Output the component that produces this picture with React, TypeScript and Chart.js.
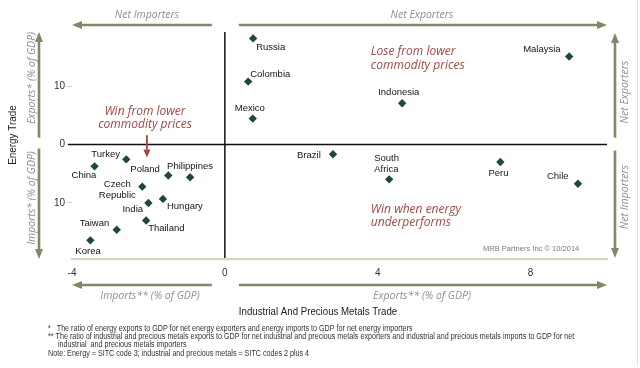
import React, { useEffect, useRef } from 'react';
import { Chart, registerables } from 'chart.js';

Chart.register(...registerables);

// ---- data ----
const countries = [
  'Russia', 'Colombia', 'Mexico', 'Malaysia', 'Indonesia', 'Brazil', 'South Africa', 'Peru', 'Chile',
  'Turkey', 'China', 'Poland', 'Philippines', 'Czech Republic', 'India', 'Hungary', 'Thailand', 'Taiwan', 'Korea',
];
// Industrial and precious metals trade, % of GDP (negative = net importer)
const metalsTrade = [0.74, 0.61, 0.73, 9.01, 4.64, 2.83, 4.3, 7.21, 9.24, -2.58, -3.41, -1.48, -0.91, -2.16, -2.0, -1.62, -2.06, -2.83, -3.52];
// Energy trade, % of GDP (negative = net importer)
const energyTrade = [18.2, 10.8, 4.46, 15.1, 7.1, -1.66, -5.95, -2.98, -6.7, -2.52, -3.72, -5.3, -5.6, -7.2, -10.0, -9.3, -13.0, -14.6, -16.4];
const xTickStep = 4;
const yTickStep = 10;

const footnotes = [
  '*   The ratio of energy exports to GDP for net energy exporters and energy imports to GDP for net energy importers',
  '** The ratio of industrial and precious metals exports to GDP for net industrial and precious metals exporters and industrial and precious metals imports to GDP for net',
  '     industrial  and precious metals importers',
  'Note: Energy = SITC code 3; industrial and precious metals = SITC codes 2 plus 4',
];

// label placement (pixel offsets from each point): [lines, dx, dy, align]
const labelPlacement: [string[], number, number, CanvasTextAlign][] = [
  [['Russia'], 3, 9, 'left'],
  [['Colombia'], 2, -7, 'left'],
  [['Mexico'], -18, -10, 'left'],
  [['Malaysia'], -46, -7, 'left'],
  [['Indonesia'], -24, -11, 'left'],
  [['Brazil'], -36, 1, 'left'],
  [['South', 'Africa'], -15, -21, 'left'],
  [['Peru'], -12, 11, 'left'],
  [['Chile'], -31, -7, 'left'],
  [['Turkey'], -35, -5, 'left'],
  [['China'], -23, 9, 'left'],
  [['Poland'], -38, -6, 'left'],
  [['Philippines'], -23, -11, 'left'],
  [['Czech', 'Republic'], -25, -2, 'center'],
  [['India'], -26, 6, 'left'],
  [['Hungary'], 4, 7, 'left'],
  [['Thailand'], 2, 8, 'left'],
  [['Taiwan'], -37, -6, 'left'],
  [['Korea'], -15, 11, 'left'],
];

const OLIVE = '#878468';
const ARROW_TEXT = '#8e8e8e';
const RED = '#9c4a44';

function arrow(ctx: CanvasRenderingContext2D, x1: number, y1: number, x2: number, y2: number, color: string, lw: number, hl: number, hw: number) {
  const ang = Math.atan2(y2 - y1, x2 - x1);
  const bx = x2 - Math.cos(ang) * hl;
  const by = y2 - Math.sin(ang) * hl;
  ctx.save();
  ctx.strokeStyle = color;
  ctx.fillStyle = color;
  ctx.lineWidth = lw;
  ctx.beginPath();
  ctx.moveTo(x1, y1);
  ctx.lineTo(bx, by);
  ctx.stroke();
  ctx.beginPath();
  ctx.moveTo(x2, y2);
  ctx.lineTo(bx + Math.sin(ang) * hw / 2, by - Math.cos(ang) * hw / 2);
  ctx.lineTo(bx - Math.sin(ang) * hw / 2, by + Math.cos(ang) * hw / 2);
  ctx.closePath();
  ctx.fill();
  ctx.restore();
}

function rotText(ctx: CanvasRenderingContext2D, text: string, x: number, y: number, sx = 1) {
  ctx.save();
  ctx.translate(x, y);
  ctx.rotate(-Math.PI / 2);
  ctx.scale(sx, 1);
  ctx.textAlign = 'center';
  ctx.textBaseline = 'middle';
  ctx.fillText(text, 0, 0);
  ctx.restore();
}

function narrowText(ctx: CanvasRenderingContext2D, text: string, x: number, y: number, sx: number) {
  ctx.save();
  ctx.translate(x, y);
  ctx.scale(sx, 1);
  ctx.fillText(text, 0, 0);
  ctx.restore();
}

const decor = {
  id: 'decor',
  beforeDatasetsDraw(chart: any) {
    const { ctx, chartArea: a, scales } = chart;
    const x0 = scales.x.getPixelForValue(0);
    const y0 = scales.y.getPixelForValue(0);
    ctx.save();
    ctx.strokeStyle = '#111';
    ctx.lineWidth = 1.5;
    ctx.beginPath();
    ctx.moveTo(x0, a.top);
    ctx.lineTo(x0, a.bottom - 1);
    ctx.stroke();
    ctx.beginPath();
    ctx.moveTo(a.left - 4, y0);
    ctx.lineTo(a.right, y0);
    ctx.stroke();
    ctx.restore();
  },
  afterDatasetsDraw(chart: any) {
    const { ctx, chartArea: a, scales } = chart;
    const xs = scales.x, ys = scales.y;
    const x0 = xs.getPixelForValue(0);
    const y0 = ys.getPixelForValue(0);
    ctx.save();

    // point labels
    ctx.font = '9.5px "Liberation Sans", Arial, sans-serif';
    ctx.fillStyle = '#151515';
    ctx.textBaseline = 'middle';
    countries.forEach((_, i) => {
      const px = xs.getPixelForValue(metalsTrade[i]);
      const py = ys.getPixelForValue(energyTrade[i]);
      const [lines, dx, dy, align] = labelPlacement[i];
      ctx.textAlign = align;
      lines.forEach((ln, k) => ctx.fillText(ln, px + dx, py + dy + k * 11));
    });

    // quadrant texts
    ctx.font = 'italic 12px "Open Sans", sans-serif';
    ctx.fillStyle = RED;
    ctx.textAlign = 'center';
    const wx = xs.getPixelForValue(-2.09);
    const wy = ys.getPixelForValue(5.7);
    ctx.fillText('Win from lower', wx, wy);
    ctx.fillText('commodity prices', wx, wy + 13.5);
    ctx.textAlign = 'left';
    const lx = xs.getPixelForValue(3.82);
    const ly = ys.getPixelForValue(16.0);
    ctx.fillText('Lose from lower', lx, ly);
    ctx.fillText('commodity prices', lx, ly + 14);
    const uy = ys.getPixelForValue(-11.1);
    ctx.fillText('Win when energy', lx, uy);
    ctx.fillText('underperforms', lx, uy + 13.5);

    // red arrow
    const rx = xs.getPixelForValue(-2.04);
    arrow(ctx, rx, ys.getPixelForValue(1.6), rx, ys.getPixelForValue(-2.2), '#a5443a', 1.8, 8, 7);

    // copyright
    ctx.font = '8px "Liberation Sans", Arial, sans-serif';
    ctx.fillStyle = '#7a7a7a';
    ctx.textAlign = 'left';
    narrowText(ctx, 'MRB Partners Inc \u00A9 10/2014', 483, a.bottom - 10, 0.94);

    // outer arrows
    const T = a.top, B = a.bottom, L = a.left, R = a.right;
    arrow(ctx, x0 - 13, T - 7, L, T - 7, OLIVE, 2.6, 10, 8);
    arrow(ctx, x0 + 14, T - 7, R, T - 7, OLIVE, 2.6, 10, 8);
    arrow(ctx, x0 - 13, B + 26, L, B + 26, OLIVE, 2.6, 10, 8);
    arrow(ctx, x0 + 14, B + 26, R, B + 26, OLIVE, 2.6, 10, 8);
    arrow(ctx, L - 33, y0 - 7, L - 33, T, OLIVE, 2.6, 10, 8);
    arrow(ctx, L - 33, y0 + 4, L - 33, B, OLIVE, 2.6, 10, 8);
    arrow(ctx, R + 8, y0 - 7, R + 8, T + 1, OLIVE, 2.6, 10, 8);
    arrow(ctx, R + 8, y0 + 6, R + 8, B - 1, OLIVE, 2.6, 10, 8);

    ctx.font = 'italic 10.5px "Open Sans", sans-serif';
    ctx.fillStyle = ARROW_TEXT;
    ctx.textAlign = 'center';
    ctx.textBaseline = 'middle';
    ctx.fillText('Net Importers', 147, T - 17);
    ctx.fillText('Net Exporters', 422, T - 17);
    ctx.fillText('Imports** (% of GDP)', 150, B + 37);
    ctx.fillText('Exports** (% of GDP)', 422, B + 37);
    rotText(ctx, 'Exports* (% of GDP)', L - 40, 78);
    rotText(ctx, 'Imports* (% of GDP)', L - 40, 198);
    rotText(ctx, 'Net Exporters', R + 18, 92);
    rotText(ctx, 'Net Importers', R + 18, 197);

    // axis titles
    ctx.font = '11px "Liberation Sans", Arial, sans-serif';
    ctx.fillStyle = '#222';
    rotText(ctx, 'Energy Trade', 13, 135, 0.9);
    ctx.textAlign = 'center';
    narrowText(ctx, 'Industrial And Precious Metals Trade', 318, B + 53, 0.88);

    // footnotes
    ctx.font = '8.4px "Liberation Sans", Arial, sans-serif';
    ctx.fillStyle = '#333';
    ctx.textAlign = 'left';
    const fy = [329, 337, 345, 354];
    footnotes.forEach((f, i) => narrowText(ctx, f, 48, fy[i], 0.855));

    // faint frame
    ctx.strokeStyle = '#e2e2e2';
    ctx.lineWidth = 1;
    ctx.beginPath();
    ctx.moveTo(637.5, 0);
    ctx.lineTo(637.5, 366);
    ctx.stroke();

    ctx.restore();
  },
};

export default function App() {
  const ref = useRef<HTMLCanvasElement | null>(null);
  useEffect(() => {
    if (!ref.current) return;
    const chart = new Chart(ref.current, {
      type: 'scatter',
      data: {
        datasets: [
          {
            label: 'Countries',
            data: countries.map((_, i) => ({ x: metalsTrade[i], y: energyTrade[i] })),
            pointStyle: 'rectRot',
            pointRadius: 4.2,
            pointHoverRadius: 4.2,
            backgroundColor: '#1c4a38',
            borderColor: '#1c4a38',
            borderWidth: 0,
          },
        ],
      },
      options: {
        responsive: false,
        animation: false,
        events: [],
        layout: { padding: { left: 0, right: 33, top: 32, bottom: 0 } },
        plugins: { legend: { display: false }, tooltip: { enabled: false } },
        scales: {
          x: {
            type: 'linear',
            min: -4,
            max: 10,
            afterFit: (s: any) => { s.height = 109; },
            ticks: {
              stepSize: xTickStep,
              includeBounds: false,
              color: '#333',
              padding: 8,
              font: { family: '"Liberation Sans", Arial, sans-serif', size: 10 },
            },
            grid: { drawOnChartArea: false, drawTicks: false, color: '#d6d3c0' },
            border: { display: true, color: '#d8d5c3', width: 2.2 },
          },
          y: {
            type: 'linear',
            min: -19.6,
            max: 19.3,
            afterFit: (s: any) => { s.width = 72; },
            ticks: {
              stepSize: yTickStep,
              includeBounds: false,
              color: '#333',
              padding: 2,
              font: { family: '"Liberation Sans", Arial, sans-serif', size: 10 },
              callback: (v: any) => String(Math.abs(Number(v))),
            },
            grid: { drawOnChartArea: false, drawTicks: true, tickLength: 5, color: '#cfcfcf' },
            border: { display: false },
          },
        },
      },
      plugins: [decor],
    });
    return () => chart.destroy();
  }, []);
  return (
    <div style={{ position: 'absolute', left: 0, top: 0, width: 640, height: 368, background: '#fff' }}>
      <canvas ref={ref} width={640} height={368} />
    </div>
  );
}
